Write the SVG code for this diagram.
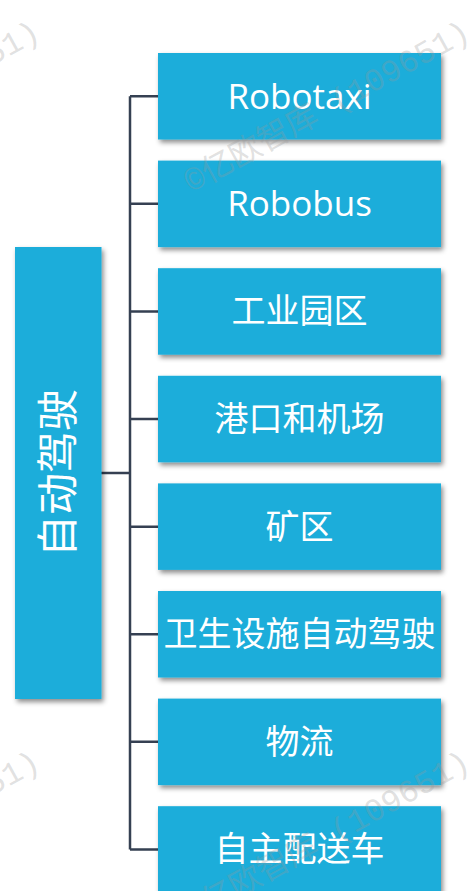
<svg xmlns="http://www.w3.org/2000/svg" width="472" height="891" viewBox="0 0 472 891">
<defs>
<filter id="sh" x="-20%" y="-20%" width="140%" height="150%">
<feDropShadow dx="2" dy="3" stdDeviation="2.5" flood-color="#000" flood-opacity="0.45"/>
</filter>
</defs>
<style>
.box{fill:#1CADDA;filter:url(#sh);}
.lbl{fill:#fff;font-family:"Open Sans","Noto Sans CJK SC",sans-serif;font-size:34px;text-anchor:middle;}
.lat{font-size:35px;}
.wm{fill:#999;fill-opacity:0.3;font-family:"Liberation Mono","Noto Sans CJK SC",monospace;font-size:32px;text-anchor:end;}
.con{stroke:#354052;stroke-width:2.5;fill:none;}
</style>
<rect width="472" height="891" fill="#fff"/>
<g id="connectors">
<path class="con" d="M130,96.25V849.45M101,473H130M130,96.25H158M130,203.85H158M130,311.45H158M130,419.05H158M130,526.65H158M130,634.25H158M130,741.85H158M130,849.45H158"/>
</g>
<g id="root">
<rect class="box" x="15" y="247" width="86.5" height="452"/>
<text class="lbl" style="font-size:42px" transform="translate(58,473) rotate(-90)" y="15">自动驾驶</text>
</g>
<g id="n1"><rect class="box" x="158" y="53" width="283" height="86.5"/><text class="lbl lat" x="299.5" y="108.5">Robotaxi</text></g>
<g id="n2"><rect class="box" x="158" y="160.6" width="283" height="86.5"/><text class="lbl lat" x="299.5" y="216.1">Robobus</text></g>
<g id="n3"><rect class="box" x="158" y="268.2" width="283" height="86.5"/><text class="lbl" x="299.5" y="323.45">工业园区</text></g>
<g id="n4"><rect class="box" x="158" y="375.8" width="283" height="86.5"/><text class="lbl" x="299.5" y="431.05">港口和机场</text></g>
<g id="n5"><rect class="box" x="158" y="483.4" width="283" height="86.5"/><text class="lbl" x="299.5" y="538.65">矿区</text></g>
<g id="n6"><rect class="box" x="158" y="591" width="283" height="86.5"/><text class="lbl" x="299.5" y="646.25">卫生设施自动驾驶</text></g>
<g id="n7"><rect class="box" x="158" y="698.6" width="283" height="86.5"/><text class="lbl" x="299.5" y="753.85">物流</text></g>
<g id="n8"><rect class="box" x="158" y="806.2" width="283" height="86.5"/><text class="lbl" x="299.5" y="861.45">自主配送车</text></g>
<g id="watermark">
<text class="wm" transform="translate(42,38) rotate(-29)">©亿欧智库 (109651)</text>
<text class="wm" transform="translate(472,38) rotate(-29)">©亿欧智库 (109651)</text>
<text class="wm" transform="translate(42,768) rotate(-29)">©亿欧智库 (109651)</text>
<text class="wm" transform="translate(472,768) rotate(-29)">©亿欧智库 (109651)</text>
</g>
</svg>
